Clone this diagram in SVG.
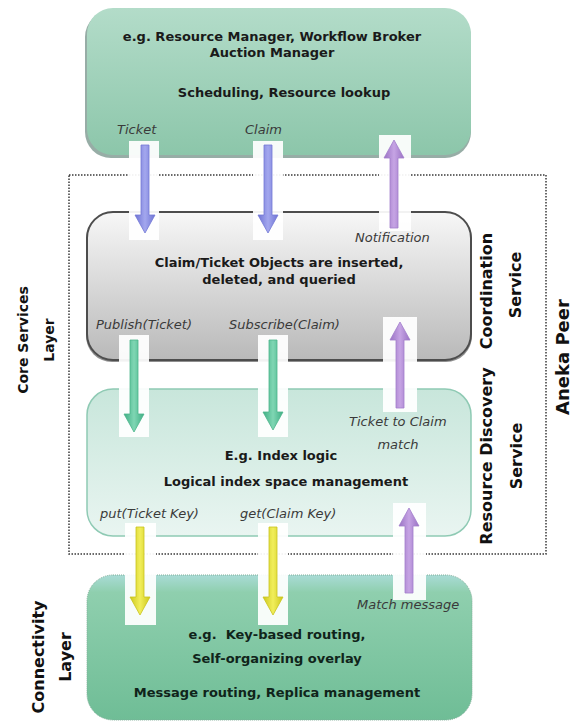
<svg xmlns="http://www.w3.org/2000/svg" width="575" height="722" viewBox="0 0 575 722">
<style>
.b{font-family:"DejaVu Sans",Verdana,sans-serif;font-weight:bold;font-size:13px;fill:#1a1a1a;text-anchor:middle}
.i{font-family:"DejaVu Sans",Verdana,sans-serif;font-style:italic;font-size:13px;fill:#3a3a3a}
.s{font-family:"DejaVu Sans",Verdana,sans-serif;font-weight:bold;font-size:16px;fill:#111;text-anchor:middle}
.bg{fill:#ffffff;opacity:0.93}
</style>
<defs>
<linearGradient id="gTop" x1="0" y1="0" x2="0" y2="1"><stop offset="0" stop-color="#b3dcc9"/><stop offset="1" stop-color="#8cc6aa"/></linearGradient>
<linearGradient id="gGray" x1="0" y1="0" x2="0" y2="1"><stop offset="0" stop-color="#f7f7f7"/><stop offset="1" stop-color="#b9b9b9"/></linearGradient>
<linearGradient id="gRD" x1="0" y1="0" x2="0" y2="1"><stop offset="0" stop-color="#c8e6db"/><stop offset="1" stop-color="#e9f5f1"/></linearGradient>
<linearGradient id="gCon" x1="0" y1="0" x2="0" y2="1"><stop offset="0" stop-color="#a9dbd6"/><stop offset="0.12" stop-color="#8fcfae"/><stop offset="1" stop-color="#6fbd96"/></linearGradient>
<linearGradient id="aBlue" x1="0" y1="0" x2="1" y2="0"><stop offset="0" stop-color="#6f74d4"/><stop offset="0.5" stop-color="#a3a7ee"/><stop offset="1" stop-color="#6f74d4"/></linearGradient>
<linearGradient id="aGreen" x1="0" y1="0" x2="1" y2="0"><stop offset="0" stop-color="#3fae84"/><stop offset="0.5" stop-color="#7fd6b3"/><stop offset="1" stop-color="#3fae84"/></linearGradient>
<linearGradient id="aYellow" x1="0" y1="0" x2="1" y2="0"><stop offset="0" stop-color="#cdc81c"/><stop offset="0.5" stop-color="#f1ee5a"/><stop offset="1" stop-color="#cdc81c"/></linearGradient>
<linearGradient id="aPurple" x1="0" y1="0" x2="1" y2="0"><stop offset="0" stop-color="#9a72c4"/><stop offset="0.5" stop-color="#c6a4e4"/><stop offset="1" stop-color="#9a72c4"/></linearGradient>
</defs>

<!-- Aneka Peer dotted boundary -->
<rect id="peer-boundary" x="69" y="175" width="477" height="379" fill="none" stroke="#3a3a3a" stroke-width="1.5" stroke-dasharray="1.5 1.5"/>

<g id="top-box">
<rect x="85" y="11" width="386" height="147" rx="26" fill="#6b8a80" opacity="0.7"/>
<rect x="87" y="8" width="384" height="147" rx="26" fill="url(#gTop)"/>
<text class="b" x="272" y="41">e.g. Resource Manager, Workflow Broker</text>
<text class="b" x="272" y="57">Auction Manager</text>
<text class="b" x="284" y="97">Scheduling, Resource lookup</text>
</g>

<g id="coordination-box">
<rect x="86" y="214" width="386" height="148" rx="26" fill="#444" opacity="0.6"/>
<rect x="87" y="212" width="384" height="148" rx="26" fill="url(#gGray)" stroke="#4d4d4d" stroke-width="2"/>
<text class="b" x="279" y="267">Claim/Ticket Objects are inserted,</text>
<text class="b" x="279" y="284">deleted, and queried</text>
</g>

<g id="discovery-box">
<rect x="87" y="389" width="384" height="147" rx="26" fill="url(#gRD)" stroke="#8fcab4" stroke-width="1.5"/>
<text class="b" x="281" y="460">E.g. Index logic</text>
<text class="b" x="286" y="486">Logical index space management</text>
</g>

<g id="connectivity-box">
<rect x="87" y="575" width="385" height="145" rx="26" fill="url(#gCon)" stroke="#7fae98" stroke-width="1" stroke-dasharray="1 1"/>
<text class="b" x="277" y="639" style="fill:#10241a">e.g.&#160; Key-based routing,</text>
<text class="b" x="277" y="663" style="fill:#10241a">Self-organizing overlay</text>
<text class="b" x="277" y="697" style="fill:#10241a">Message routing, Replica management</text>
</g>

<g id="connectors">
<rect class="bg" x="129" y="141" width="30" height="99"/>
<rect class="bg" x="253" y="141" width="30" height="99"/>
<rect class="bg" x="379" y="135" width="32" height="96"/>
<rect class="bg" x="119" y="335" width="30" height="102"/>
<rect class="bg" x="258" y="335" width="30" height="102"/>
<rect class="bg" x="383" y="317" width="34" height="95"/>
<rect class="bg" x="125" y="523" width="31" height="102"/>
<rect class="bg" x="258" y="523" width="30" height="102"/>
<rect class="bg" x="393" y="503" width="33" height="97"/>
<!-- blue down arrows -->
<path d="M141,145 h8 v70 h6 l-10,18 l-10,-18 h6 z" fill="url(#aBlue)" stroke="#7479d6" stroke-width="0.8"/>
<path d="M264,145 h8 v70 h6 l-10,18 l-10,-18 h6 z" fill="url(#aBlue)" stroke="#7479d6" stroke-width="0.8"/>
<!-- purple up (Notification) -->
<path d="M390,228 h8 v-70 h6 l-10,-18 l-10,18 h6 z" fill="url(#aPurple)" stroke="#a27fcb" stroke-width="0.8"/>
<!-- green down arrows -->
<path d="M130,340 h8 v74 h6 l-10,18 l-10,-18 h6 z" fill="url(#aGreen)" stroke="#4cb58c" stroke-width="0.8"/>
<path d="M269,340 h8 v72 h6 l-10,18 l-10,-18 h6 z" fill="url(#aGreen)" stroke="#4cb58c" stroke-width="0.8"/>
<!-- purple up (Ticket to Claim match) -->
<path d="M396,408 h8 v-68 h6 l-10,-18 l-10,18 h6 z" fill="url(#aPurple)" stroke="#a27fcb" stroke-width="0.8"/>
<!-- yellow down arrows -->
<path d="M136,527 h8 v70 h6 l-10,18 l-10,-18 h6 z" fill="url(#aYellow)" stroke="#c9c41e" stroke-width="0.8"/>
<path d="M269,527 h8 v70 h6 l-10,18 l-10,-18 h6 z" fill="url(#aYellow)" stroke="#c9c41e" stroke-width="0.8"/>
<!-- purple up (Match message) -->
<path d="M405,593 h8 v-67 h6 l-10,-18 l-10,18 h6 z" fill="url(#aPurple)" stroke="#a27fcb" stroke-width="0.8"/>
<text class="i" x="117" y="134">Ticket</text>
<text class="i" x="245" y="134">Claim</text>
<text class="i" x="355" y="242">Notification</text>
<text class="i" x="96" y="329">Publish(Ticket)</text>
<text class="i" x="229" y="329">Subscribe(Claim)</text>
<text class="i" x="349" y="426">Ticket to Claim</text>
<text class="i" x="398" y="449" text-anchor="middle">match</text>
<text class="i" x="100" y="518">put(Ticket Key)</text>
<text class="i" x="240" y="518">get(Claim Key)</text>
<text class="i" x="357" y="609">Match message</text>
</g>

<g id="side-labels">
<text class="s" style="font-size:14px" transform="translate(28,340) rotate(-90)">Core Services</text>
<text class="s" style="font-size:14px" transform="translate(54,340) rotate(-90)">Layer</text>
<text class="s" transform="translate(44,657) rotate(-90)">Connectivity</text>
<text class="s" transform="translate(71,657) rotate(-90)">Layer</text>
<text class="s" transform="translate(492,291) rotate(-90)">Coordination</text>
<text class="s" transform="translate(521,285) rotate(-90)">Service</text>
<text class="s" transform="translate(492,456) rotate(-90)">Resource Discovery</text>
<text class="s" transform="translate(522,456) rotate(-90)">Service</text>
<text class="s" style="font-size:18px" transform="translate(569,357) rotate(-90)">Aneka Peer</text>
</g>
</svg>
